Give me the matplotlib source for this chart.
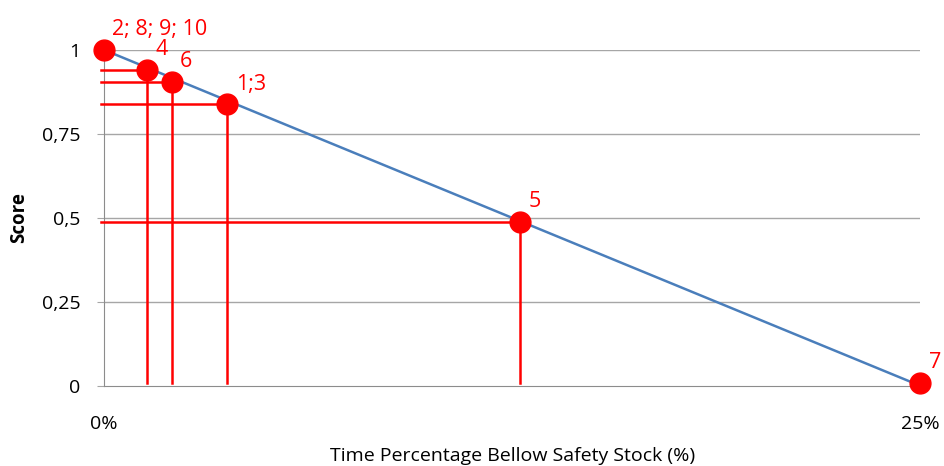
import matplotlib.pyplot as plt
from matplotlib.ticker import FuncFormatter

plt.rcParams['font.family'] = ['Open Sans', 'DejaVu Sans']

# points (x in % below safety stock)
labels = ["2; 8; 9; 10", "4", "6", "1;3", "5", "7"]
x_pct = [0.0, 1.32, 2.07, 3.78, 12.75, 25.0]
score = [1.0, 0.940, 0.904, 0.838, 0.489, 0.008]
line_x = [0.0, 25.0]
line_y = [1.0, 0.0]
yticks = [0, 0.25, 0.5, 0.75, 1]
xticks = [0, 25]

fig = plt.figure(figsize=(9.45, 4.66), dpi=100)
ax = fig.add_axes([0.110, 0.172, 0.864, 0.721])

for y in yticks[1:]:
    ax.axhline(y, color='#a6a6a6', linewidth=1.0, zorder=1)

ax.plot(line_x, line_y, color='#4a7ebb', linewidth=1.8, zorder=2)

# drop lines to both axes (skip first and last point)
for x, y in zip(x_pct[1:-1], score[1:-1]):
    ax.plot([-0.1, x], [y, y], color='red', linewidth=1.8, zorder=3, clip_on=False)
    ax.plot([x, x], [0.008, y], color='red', linewidth=1.8, zorder=3)

ax.plot(x_pct, score, 'o', color='red', markersize=15, zorder=4, clip_on=False)

for lab, x, y in zip(labels, x_pct, score):
    ax.annotate(lab, (x, y), xytext=(6, 7), textcoords='offset points',
                color='red', fontsize=15.5, ha='left', va='bottom')

ax.set_xlim(0, 25)
ax.set_ylim(0, 1)
ax.set_yticks(yticks)
ax.set_xticks(xticks)
ax.yaxis.set_major_formatter(FuncFormatter(lambda v, p: f"{v:g}".replace('.', ',')))
ax.xaxis.set_major_formatter(FuncFormatter(lambda v, p: f"{v:g}%"))
ax.tick_params(axis='y', length=5, color='#a6a6a6', pad=12, labelsize=14)
ax.tick_params(axis='x', length=0, pad=21, labelsize=14)

for spine in ['top', 'right']:
    ax.spines[spine].set_visible(False)
for spine in ['left', 'bottom']:
    ax.spines[spine].set_color('#8c8c8c')

ax.set_ylabel("Score", fontweight='bold', fontsize=13.5, labelpad=9)
ax.set_xlabel("Time Percentage Bellow Safety Stock (%)", fontsize=14, labelpad=10)

plt.savefig("out.png", dpi=100)
